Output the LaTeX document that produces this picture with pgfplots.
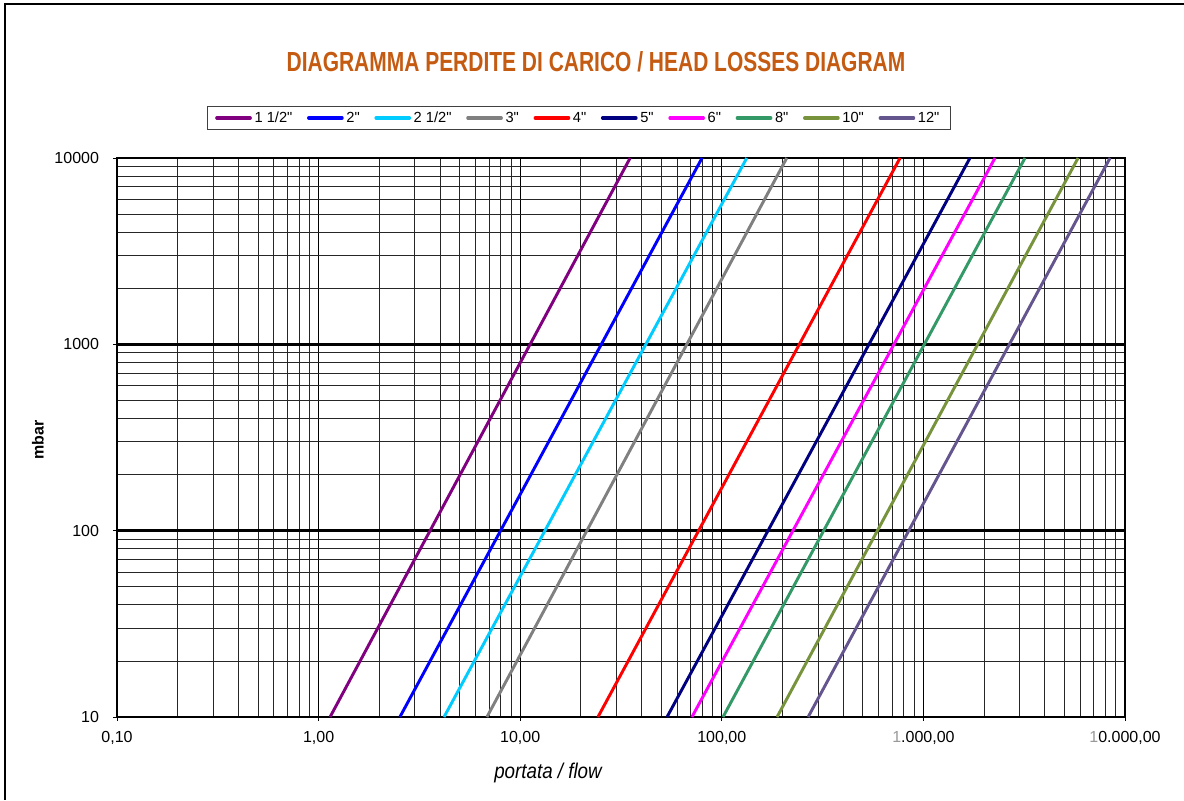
\documentclass[border=0pt]{standalone}
\usepackage{fontspec}
\setmainfont{Liberation Sans}
\newfontfamily\titlef{Liberation Sans}[FakeStretch=0.75]
\newfontfamily\narrowf{Liberation Sans}[FakeStretch=0.88]
\font\legf="Liberation Sans" at 11pt
\font\tickf="Liberation Sans" at 12pt
\usepackage{pgfplots}
\pgfplotsset{compat=1.18}
\definecolor{titlec}{HTML}{C55A11}
\definecolor{cA}{HTML}{800080}
\definecolor{cB}{HTML}{0000FF}
\definecolor{cC}{HTML}{00CCFF}
\definecolor{cD}{HTML}{808080}
\definecolor{cE}{HTML}{FF0000}
\definecolor{cF}{HTML}{000080}
\definecolor{cG}{HTML}{FF00FF}
\definecolor{cH}{HTML}{339966}
\definecolor{cI}{HTML}{77933C}
\definecolor{cJ}{HTML}{65558F}
\begin{document}
\begin{tikzpicture}[x=1pt,y=1pt]
\path[use as bounding box] (0,0) rectangle (888,-600);
\draw[line width=1.1pt] (3.75,-600) -- (3.75,-3) -- (888,-3);
\node at (447,-46.5) {\resizebox{464pt}{15pt}{\titlef\bfseries\color{titlec}DIAGRAMMA PERDITE DI CARICO / HEAD LOSSES DIAGRAM}};
\node[rotate=90] at (28.5,-330) {\fontsize{12}{14}\selectfont\bfseries mbar};
\node at (411,-579.75) {\fontsize{16}{18}\selectfont\narrowf\itshape portata / flow};
\begin{axis}[
  at={(87.75pt,-537.75pt)}, anchor=south west,
  scale only axis, width=756pt, height=419.25pt,
  xmode=log, ymode=log,
  xmin=0.1, xmax=10000, ymin=10, ymax=10000,
  xtick={0.1,1,10,100,1000,10000},
  xticklabels={{0,10},{1,00},{10,00},{100,00},{{\color{black!40}1}.000,00},{{\color{black!40}1}0.000,00}},
  ytick={10,100,1000,10000},
  yticklabels={10,100,1000,10000},
  tick label style={font=\tickf},
  xticklabel style={yshift=-4pt},
  yticklabel style={xshift=-7pt},
  xtick pos=bottom, ytick pos=left,
  tick align=outside, major tick length=3pt, minor tick length=0pt,
  tick style={black, line width=0.6pt},
  grid=both,
  minor grid style={black!85, line width=0.6pt},
  major grid style={black, line width=0.7pt},
  extra y ticks={100,1000,10000}, extra y tick labels={},
  extra y tick style={grid=major, major grid style={black, line width=1.9pt}, major tick length=0pt},
  axis line style={black, line width=0.8pt},
  legend columns=10,
  legend style={at={(0.458,1.0716)}, anchor=center, draw=black!75, line width=0.8pt,
    font=\legf, inner xsep=6pt, inner ysep=2pt,
    /tikz/every even column/.append style={column sep=9pt}},
  legend image code/.code={\draw[#1, line width=2.5pt, line cap=round] (5pt,0pt) -- (30pt,0pt);},
  every axis plot/.append style={line width=2.2pt},
]
\addplot[cA] coordinates {(1.14,10) (35.1,10000)};
\addlegendentry{1 1/2"}
\addplot[cB] coordinates {(2.53,10) (79.8,10000)};
\addlegendentry{2"}
\addplot[cC] coordinates {(4.19,10) (133,10000)};
\addlegendentry{2 1/2"}
\addplot[cD] coordinates {(6.84,10) (210,10000)};
\addlegendentry{3"}
\addplot[cE] coordinates {(24.3,10) (766,10000)};
\addlegendentry{4"}
\addplot[cF] coordinates {(53.5,10) (1702,10000)};
\addlegendentry{5"}
\addplot[cG] coordinates {(71.1,10) (2265,10000)};
\addlegendentry{6"}
\addplot[cH] coordinates {(101.4,10) (3191,10000)};
\addlegendentry{8"}
\addplot[cI] coordinates {(188,10) (5850,10000)};
\addlegendentry{10"}
\addplot[cJ] coordinates {(268,10) (8430,10000)};
\addlegendentry{12"}
\end{axis}
\end{tikzpicture}
\end{document}
